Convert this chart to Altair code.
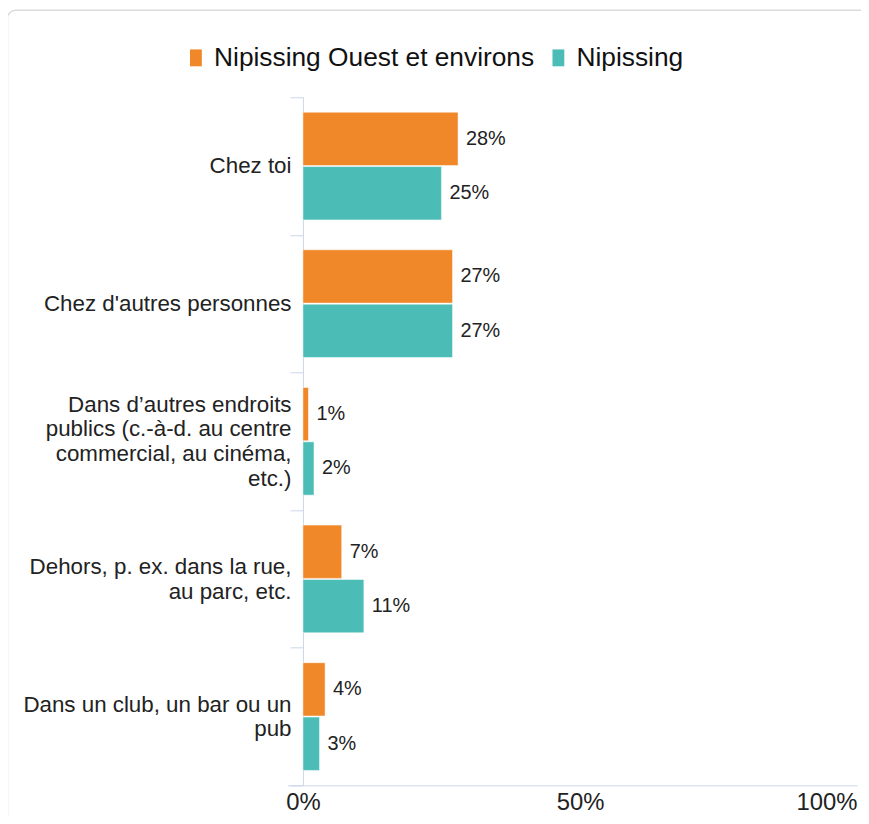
import altair as alt
import pandas as pd

categories = [
    "Chez toi",
    "Chez d'autres personnes",
    "Dans d’autres endroits|publics (c.-à-d. au centre|commercial, au cinéma,|etc.)",
    "Dehors, p. ex. dans la rue,|au parc, etc.",
    "Dans un club, un bar ou un|pub",
]
series = ["Nipissing Ouest et environs", "Nipissing"]
values_ouest = [28, 27, 1, 7, 4]
values_nip = [25, 27, 2, 11, 3]
colors = ["#F0882A", "#4CBDB6"]
x_ticks = [0, 50, 100]

rows = []
for c, a, b in zip(categories, values_ouest, values_nip):
    rows.append({"cat": c, "series": series[0], "val": a})
    rows.append({"cat": c, "series": series[1], "val": b})
df = pd.DataFrame(rows)

AX = "#ccd6eb"
FONT = "Liberation Sans"
LH = 25

y_enc = alt.Y(
    "cat:N",
    sort=categories,
    scale=alt.Scale(paddingInner=0, paddingOuter=0),
    axis=alt.Axis(
        title=None,
        labelExpr="split(datum.label, '|')",
        labelFontSize=22.5,
        labelLineHeight=LH,
        labelColor="#222222",
        labelLimit=400,
        labelPadding=-1,
        labelOffset={
            "condition": [
                {"test": "length(split(datum.value, '|')) == 4", "value": -1.5 * LH},
                {"test": "length(split(datum.value, '|')) == 2", "value": -0.5 * LH},
            ],
            "value": 0,
        },
        tickBand="extent",
        tickSize=13,
        tickColor=AX,
        domainColor=AX,
        grid=False,
    ),
)
yoff = alt.YOffset(
    "series:N",
    sort=series,
    scale=alt.Scale(paddingOuter=0.275, paddingInner=0.02),
)
x_enc = alt.X(
    "val:Q",
    scale=alt.Scale(domain=[0, 100], nice=False),
    axis=alt.Axis(
        title=None,
        values=x_ticks,
        labelExpr="datum.value + '%'",
        labelFontSize=24,
        labelColor="#222222",
        labelAlign=alt.ConditionalAxisLabelAlign(
            condition={"test": "datum.value == 100", "value": "right"}, value="center"
        ),
        labelPadding=5,
        ticks=False,
        domainColor=AX,
        grid=False,
    ),
)

base = alt.Chart(df)

bars = base.mark_bar(stroke="white", strokeWidth=0.5).encode(
    y=y_enc,
    yOffset=yoff,
    x=x_enc,
    color=alt.Color(
        "series:N",
        sort=series,
        scale=alt.Scale(domain=series, range=colors),
        legend=alt.Legend(
            title=None,
            orient="none",
            direction="horizontal",
            legendX=-121,
            legendY=-53,
            labelFontSize=26.5,
            labelLimit=600,
            labelColor="#111111",
            symbolType="M-0.7,-1L0.7,-1L0.7,1L-0.7,1Z",
            symbolSize=289,
            symbolStrokeWidth=0,
            labelOffset=5,
            columnPadding=10,
        ),
    ),
)

labels = base.mark_text(align="left", baseline="middle", dx=8, fontSize=20, color="#222222").encode(
    y=alt.Y("cat:N", sort=categories),
    yOffset=alt.YOffset("series:N", sort=series),
    x=alt.X("val:Q"),
    text=alt.Text("lbl:N"),
).transform_calculate(lbl="datum.val + '%'")

frame = alt.Chart(alt.Data(values=[{}])).mark_rect(
    fill="transparent", stroke="#dcdcdc", strokeWidth=1.5, cornerRadius=8
).encode(
    x=alt.value(-297.5), x2=alt.value(620), y=alt.value(-87.5), y2=alt.value(780)
)

axis_ext = alt.Chart(alt.Data(values=[{}])).mark_rule(color=AX, strokeWidth=1).encode(
    x=alt.value(-15), x2=alt.value(0), y=alt.value(693.5)
)

chart = alt.layer(frame, bars, labels, axis_ext).properties(
    width=558,
    height=693,
    autosize=alt.AutoSizeParams(type="none"),
    padding={"left": 297, "top": 87, "right": 4, "bottom": 28},
).configure(
    font=FONT,
).configure_view(stroke=None)

chart.save("out.html", embed_options={"renderer": "svg", "actions": False})
